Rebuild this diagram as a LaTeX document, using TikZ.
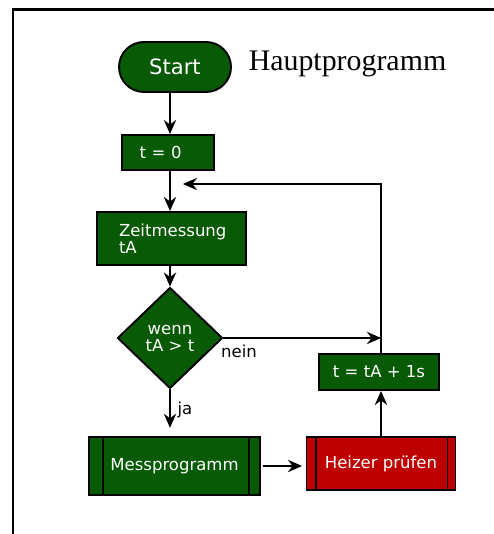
\documentclass[tikz,border=0pt]{standalone}
\usepackage{fontspec}
\setsansfont{DejaVu Sans}
\setmainfont{Liberation Serif}
\usetikzlibrary{shapes.geometric,arrows.meta}
\definecolor{prggreen}{RGB}{8,90,5}
\definecolor{prgred}{RGB}{190,0,0}

\begin{document}
\begin{tikzpicture}[>={Stealth[length=8pt,width=7pt,inset=2.6pt]}]
					\useasboundingbox (0,0) rectangle (9.88,10.68);
					\draw[line width=1.7pt] (0.26,-0.2) -- (0.26,10.49) -- (10.1,10.49);
					\tikzstyle{block}=[draw,line width=1.1pt,fill=prggreen,text=white,font=\sffamily\fontsize{9.4}{9.6}\selectfont,inner sep=0pt]
					\tikzstyle{arr}=[->,line width=1pt]
					\tikzstyle{lbl}=[font=\sffamily\fontsize{9.4}{9.6}\selectfont]
						\path (6.95,9.26) node[anchor=base,font=\fontsize{17}{20}\selectfont] (title) {Hauptprogramm};
						\path (3.5,9.34) node[block,rounded corners=0.5cm,minimum width=2.24cm,minimum height=1cm,font=\sffamily\fontsize{12}{14}\selectfont] (start) {Start};
						\path (3.354,7.63) node[block,minimum height=0.7cm,text width=1.12cm,inner xsep=0.36cm,align=left] (t0) {t = 0};
						\path (3.43,5.91) node[block,minimum height=1.06cm,text width=2.1cm,inner xsep=0.44cm,align=left] (zeit) {Zeitmessung\\tA};
						\path (3.4,3.92) node[block,diamond,minimum width=2.1cm,minimum height=2.02cm,align=center] (wenn) {wenn\\tA > t};
						\path (7.58,3.24) node[block,minimum width=2.4cm,minimum height=0.72cm] (tinc) {t = tA + 1s};
						\path (3.49,1.36) node[block,minimum width=3.41cm,minimum height=1.17cm] (mess) {Messprogramm};
						\path (7.62,1.41) node[block,fill=prgred,minimum width=2.98cm,minimum height=1.06cm] (heiz) {Heizer prüfen};
						\draw[line width=1.1pt] ([xshift=0.29cm]mess.north west) -- ([xshift=0.29cm]mess.south west);
						\draw[line width=1.1pt] ([xshift=-0.23cm]mess.north east) -- ([xshift=-0.23cm]mess.south east);
						\draw[line width=1.1pt] ([xshift=0.2cm]heiz.north west) -- ([xshift=0.2cm]heiz.south west);
						\draw[line width=1.1pt] ([xshift=-0.18cm]heiz.north east) -- ([xshift=-0.18cm]heiz.south east);
						\path (4.78,3.66) node[lbl] (nein) {nein};
						\path (3.7,2.48) node[lbl] (ja) {ja};
						\coordinate (axis) at (3.4,0);
						\coordinate (merge) at (7.62,3.92);
						\coordinate (back) at (3.66,7.0);
						\draw[arr] (start.south -| axis) -- (t0.north -| axis);
						\draw[arr] (t0.south -| axis) -- (zeit.north -| axis);
						\draw[arr] (zeit.south -| axis) -- (wenn.north);
						\draw[arr,shorten >=0.16cm] (wenn.south) -- (wenn.south |- mess.north);
						\draw[arr] (wenn.east) -- (merge);
						\draw[arr,shorten <=0.04cm,shorten >=0.07cm] (mess.east) -- (mess.east -| heiz.west);
						\draw[arr] (heiz.north) -- (heiz.north |- tinc.south);
						\draw[arr] (heiz.north |- tinc.north) |- (back);
					\end{tikzpicture}
\end{document}
